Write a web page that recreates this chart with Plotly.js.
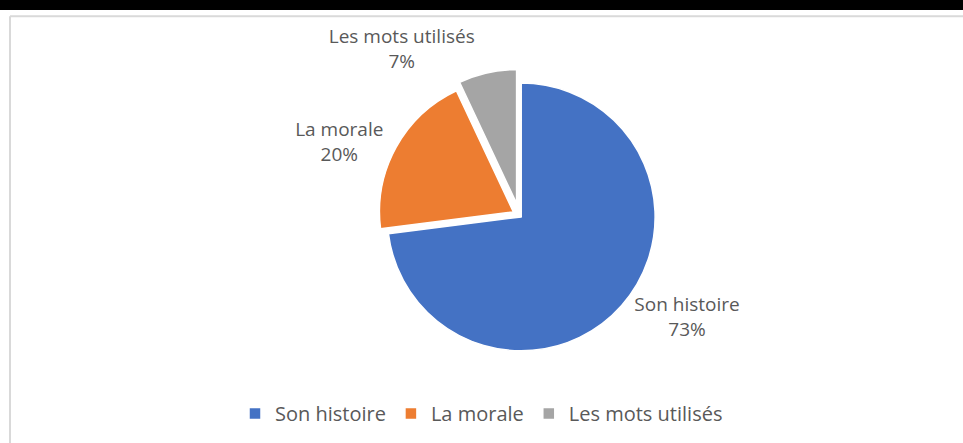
<!DOCTYPE html>
<html>
<head>
<meta charset="utf-8">
<script src="https://cdn.plot.ly/plotly-3.0.1.min.js"></script>
<style>html,body{margin:0;padding:0;background:#fff;}#chart{width:963px;height:443px;}</style>
</head>
<body>
<div id="chart"></div>
<script>
const categories = ["Son histoire", "La morale", "Les mots utilisés"];
const values = [73, 20, 7];
const colors = ["#4472C4", "#ED7D31", "#A5A5A5"];
const pulls = [0.02, 0.05, 0.09];

const trace = {
  type: "pie",
  labels: categories,
  values: values,
  sort: false,
  direction: "clockwise",
  rotation: 0,
  pull: pulls,
  marker: {colors: colors, line: {color: "#ffffff", width: 1.5}},
  textinfo: "label+percent",
  texttemplate: "%{label}<br>%{percent:.0%}",
  textposition: "outside",
  textfont: {family: "'Open Sans', sans-serif", size: 19, color: "#595959"},
  domain: {x: [0.2, 0.88], y: [0.17, 0.86]},
  hoverinfo: "label+percent",
  automargin: false
};

const layout = {
  width: 963,
  height: 443,
  margin: {l: 10, r: 10, t: 10, b: 10},
  paper_bgcolor: "#ffffff",
  showlegend: true,
  legend: {
    orientation: "h",
    x: 0.5, xanchor: "center",
    y: 0.0, yanchor: "bottom",
    font: {family: "'Open Sans', sans-serif", size: 20, color: "#595959"},
    itemwidth: 30
  },
  shapes: [
    {type: "rect", xref: "paper", yref: "paper", x0: -0.02, x1: 1.02, y0: 1.0, y1: 1.03, fillcolor: "#000000", line: {width: 0}, layer: "below"},
    {type: "line", xref: "paper", yref: "paper", x0: 0.0, x1: 1.02, y0: 0.985, y1: 0.985, line: {color: "#d9d9d9", width: 2}},
    {type: "line", xref: "paper", yref: "paper", x0: 0.0, x1: 0.0, y0: -0.03, y1: 0.985, line: {color: "#d9d9d9", width: 2}}
  ]
};

Plotly.newPlot("chart", [trace], layout, {displayModeBar: false, staticPlot: true});
</script>
</body>
</html>
